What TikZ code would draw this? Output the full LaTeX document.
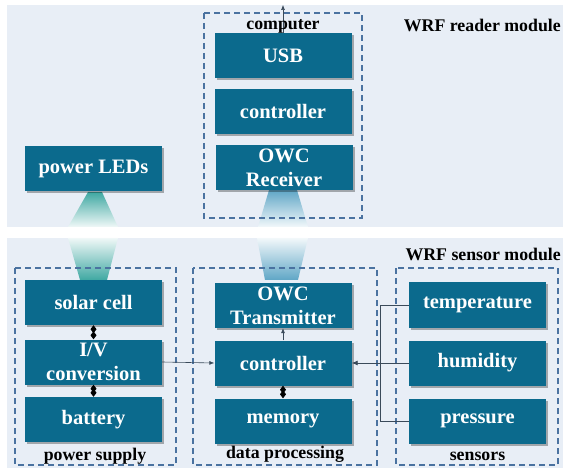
\documentclass[tikz,border=0pt]{standalone}
\usepackage{fontspec}
\setmainfont{Liberation Serif}
\usetikzlibrary{arrows.meta,shadows}

\definecolor{panelbg}{HTML}{E8EEF6}
\definecolor{boxblue}{HTML}{0B6A8D}
\definecolor{dashblue}{HTML}{4A72A0}
\definecolor{wiregray}{HTML}{3A4A5A}
\definecolor{ledteal}{HTML}{3FA8A2}
\definecolor{owcblue}{HTML}{5FA6C6}

\tikzset{
  blockbox/.style={fill=boxblue, text=white, align=center, inner sep=0pt,
    minimum width=137pt, minimum height=45pt,
    font=\bfseries\fontsize{20.5}{24}\selectfont,
    drop shadow={shadow xshift=2pt, shadow yshift=-2pt, fill=black, opacity=.3}},
  groupbox/.style={draw=dashblue, line width=1.1pt, dash pattern=on 6pt off 4pt},
  grouplabel/.style={font=\bfseries\fontsize{17.8}{20}\selectfont, text=black, inner sep=0pt},
  wire/.style={draw=wiregray, line width=0.6pt},
  diamondlink/.style={draw=black, line width=0.8pt, {Diamond[length=8pt,width=6pt]}-{Diamond[length=8pt,width=6pt]}},
}

\begin{document}
\begin{tikzpicture}[x=1pt,y=-1pt]
  \useasboundingbox (0,0) rectangle (563,468);

  % panels
  \fill[panelbg] (7,5) rectangle (563,227);
  \fill[panelbg] (7,238) rectangle (563,468);

  % light beams
  \shade[top color=ledteal, bottom color=white!92!ledteal] (88,192) -- (102,192) -- (118,227) -- (68,227) -- cycle;
  \shade[top color=white!92!ledteal, bottom color=ledteal] (68,238) -- (118,238) -- (107,280) -- (80,280) -- cycle;
  \shade[top color=owcblue, bottom color=white!92!owcblue] (269,190) -- (297,190) -- (308,227) -- (258,227) -- cycle;
  \shade[top color=white!92!owcblue, bottom color=owcblue] (257,238) -- (308,238) -- (298,280) -- (265,280) -- cycle;

  % reader module
  \draw[groupbox] (204,13) rectangle (362,218);
  \node[grouplabel, anchor=east] (readerlbl) at (561,25) {WRF reader module};
  \node[blockbox] (usb) at (283,56) {USB};
  \node[blockbox] (rctrl) at (283,111.5) {controller};
  \node[blockbox] (rx) at (284,167.5) {OWC\\Receiver};
  \node[blockbox] (leds) at (93.5,168.5) {power LEDs};
  \coordinate (pc) at (283,5);
  \draw[wire, -{Latex[length=5pt,width=4pt]}] (usb.north) -- (pc);
  \node[grouplabel] (pclbl) at (283,26) {computer};

  % sensor module
  \node[grouplabel, anchor=east] (sensorlbl) at (561,254) {WRF sensor module};
  \draw[groupbox] (15,268) rectangle (176,465);
  \draw[groupbox] (193,268) rectangle (377,465);
  \draw[groupbox] (396,268) rectangle (558,465);

  % power supply
  \node[blockbox] (solar) at (93.5,302.5) {solar cell};
  \node[blockbox] (iv) at (93.5,362) {I/V\\conversion};
  \node[blockbox] (batt) at (93.5,419.5) {battery};
  \node[grouplabel] (pslbl) at (95,456) {power supply};

  % data processing
  \node[blockbox] (tx) at (283,305.5) {OWC\\Transmitter};
  \node[blockbox] (ctrl) at (283,363) {controller};
  \node[blockbox] (mem) at (283,421) {memory};
  \node[grouplabel] (dplbl) at (285,454) {data processing};

  % sensors
  \node[blockbox] (temp) at (477.5,305) {temperature};
  \node[blockbox] (hum) at (477.5,363) {humidity};
  \node[blockbox] (pres) at (477.5,421) {pressure};
  \node[grouplabel] (senslbl) at (477.5,456) {sensors};

  % links
  \draw[diamondlink] (solar.south) -- (iv.north);
  \draw[diamondlink] (iv.south) -- (batt.north);
  \draw[diamondlink] (ctrl.south) -- (mem.north);
  \draw[wire, -{Latex[length=5pt,width=4pt]}] (iv.east) -- (ctrl.west);
  \draw[wire, -{Latex[length=5pt,width=4pt]}] (ctrl.north) -- (tx.south);
  \draw[wire] (temp.west) -- ++(-29,0) |- (pres.west);
  \draw[wire, line width=0.8pt, -{Latex[length=6pt,width=5pt]}] (hum.west) -- (ctrl.east);
\end{tikzpicture}
\end{document}
